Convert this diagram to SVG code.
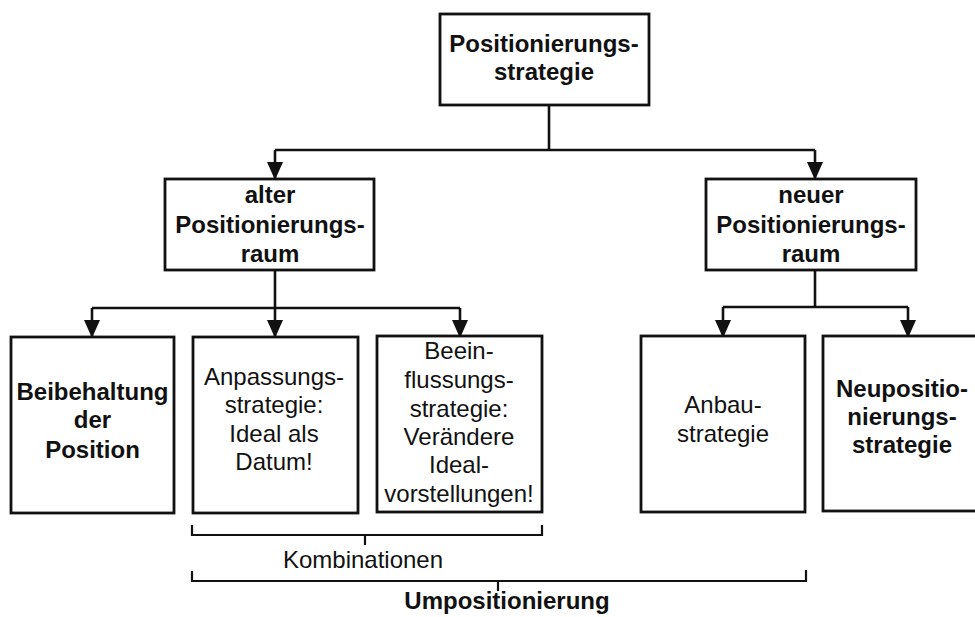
<svg xmlns="http://www.w3.org/2000/svg" width="975" height="617" viewBox="0 0 975 617">
  <style>
    .box { fill: #fff; stroke: #111; stroke-width: 2.8; }
    .ln { fill: none; stroke: #111; stroke-width: 2.6; }
    .br { fill: none; stroke: #111; stroke-width: 2.2; }
    text { font-family: "Liberation Sans", Arial, sans-serif; font-size: 24px; fill: #111; text-anchor: middle; }
    .b { font-weight: bold; }
  </style>
  <defs>
    <marker id="arrow" markerUnits="userSpaceOnUse" markerWidth="18" markerHeight="17" refX="16" refY="8" orient="auto">
      <path d="M0,0 L18,8 L0,16 Z" fill="#111"/>
    </marker>
  </defs>

  <rect width="975" height="617" fill="#fff"/>

  <!-- connectors -->
  <g id="connectors">
    <path class="ln" d="M549,105 V150"/>
    <path class="ln" d="M275,150 H815"/>
    <path class="ln" d="M275,150 V178" marker-end="url(#arrow)"/>
    <path class="ln" d="M815,150 V178" marker-end="url(#arrow)"/>

    <path class="ln" d="M275,270 V308"/>
    <path class="ln" d="M92,308 H460"/>
    <path class="ln" d="M92,308 V336" marker-end="url(#arrow)"/>
    <path class="ln" d="M275,308 V336" marker-end="url(#arrow)"/>
    <path class="ln" d="M460,308 V336" marker-end="url(#arrow)"/>

    <path class="ln" d="M815,270 V307"/>
    <path class="ln" d="M723,307 H908"/>
    <path class="ln" d="M723,307 V336" marker-end="url(#arrow)"/>
    <path class="ln" d="M908,307 V336" marker-end="url(#arrow)"/>

    <!-- brackets -->
    <path class="br" d="M192,525 V535 H542 V525 M365,535 V545"/>
    <path class="br" d="M192,571 V581 H806 V570 M498,581 V591"/>
  </g>

  <g id="n-positionierungsstrategie">
    <rect class="box" x="440" y="14" width="209" height="91"/>
    <text class="b" x="544" y="52">Positionierungs-</text>
    <text class="b" x="544" y="80">strategie</text>
  </g>

  <g id="n-alter-raum">
    <rect class="box" x="165" y="179" width="209" height="91"/>
    <text class="b" x="270" y="203">alter</text>
    <text class="b" x="270" y="233">Positionierungs-</text>
    <text class="b" x="270" y="262">raum</text>
  </g>

  <g id="n-neuer-raum">
    <rect class="box" x="706" y="179" width="210" height="91"/>
    <text class="b" x="811" y="203">neuer</text>
    <text class="b" x="811" y="233">Positionierungs-</text>
    <text class="b" x="811" y="262">raum</text>
  </g>

  <g id="n-beibehaltung">
    <rect class="box" x="11" y="337" width="163" height="176"/>
    <text class="b" x="92.5" y="400">Beibehaltung</text>
    <text class="b" x="92.5" y="428">der</text>
    <text class="b" x="92.5" y="458">Position</text>
  </g>

  <g id="n-anpassung">
    <rect class="box" x="193" y="337" width="165" height="176"/>
    <text x="274" y="385">Anpassungs-</text>
    <text x="274" y="413">strategie:</text>
    <text x="274" y="442">Ideal als</text>
    <text x="274" y="470">Datum!</text>
  </g>

  <g id="n-beeinflussung">
    <rect class="box" x="377" y="336" width="165" height="176"/>
    <text x="459" y="359">Beein-</text>
    <text x="459" y="388">flussungs-</text>
    <text x="459" y="417">strategie:</text>
    <text x="459" y="445">Verändere</text>
    <text x="459" y="473">Ideal-</text>
    <text x="459" y="502">vorstellungen!</text>
  </g>

  <g id="n-anbau">
    <rect class="box" x="641" y="336" width="164" height="176"/>
    <text x="723" y="413">Anbau-</text>
    <text x="723" y="442">strategie</text>
  </g>

  <g id="n-neupositionierung">
    <rect class="box" x="823" y="336" width="160" height="175"/>
    <text class="b" x="902" y="397">Neupositio-</text>
    <text class="b" x="902" y="425">nierungs-</text>
    <text class="b" x="902" y="453">strategie</text>
  </g>

  <g id="labels">
    <text x="363" y="568">Kombinationen</text>
    <text class="b" x="507" y="609">Umpositionierung</text>
  </g>
</svg>
